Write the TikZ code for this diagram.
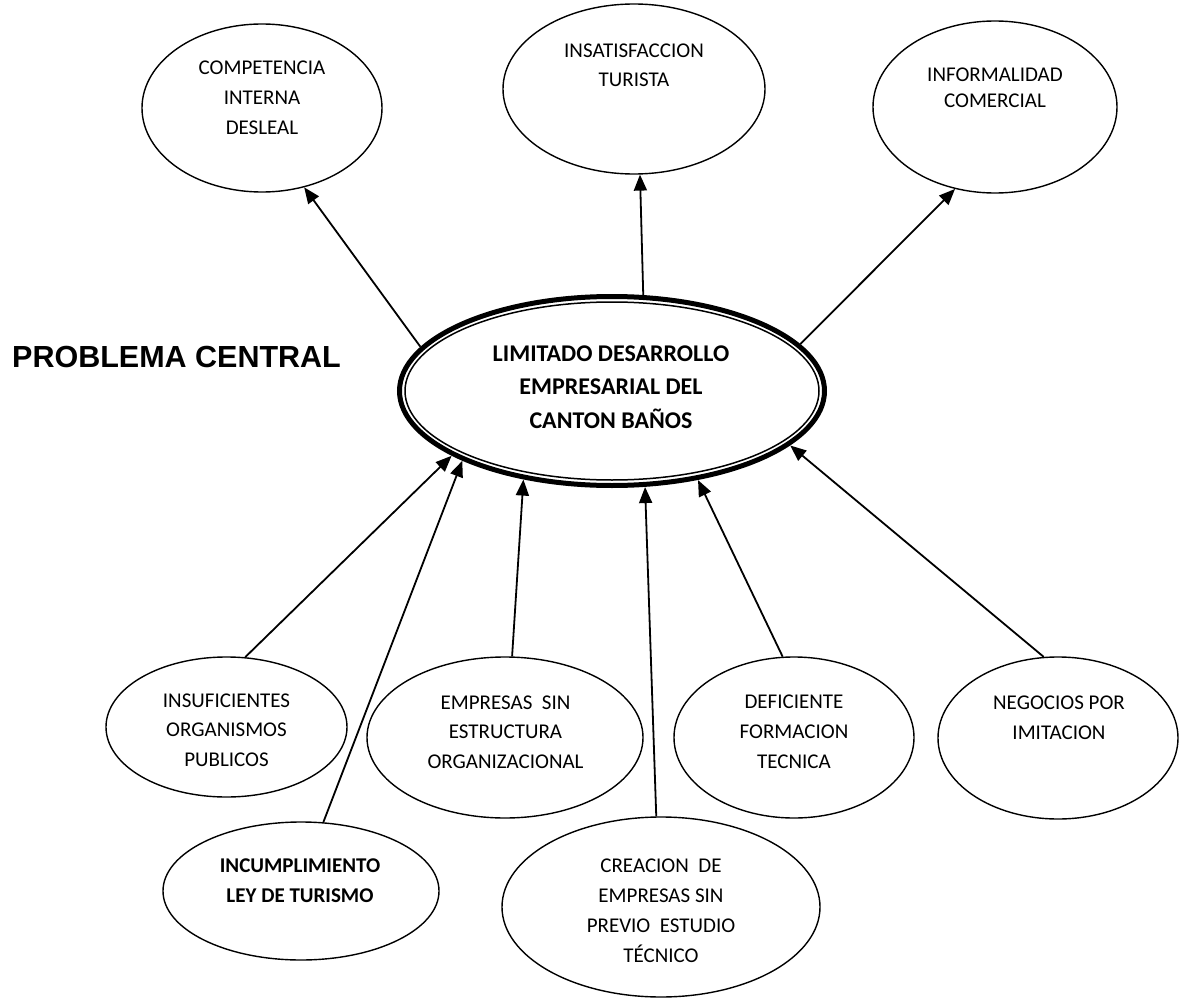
\documentclass[tikz,border=0pt]{standalone}
\usepackage{fontspec}
\setmainfont{Carlito}
\newfontfamily\arialfont{Liberation Sans}
\usetikzlibrary{arrows.meta,shapes.geometric}
\begin{document}
\begin{tikzpicture}[x=1pt,y=-1pt,
  oval/.style={ellipse, draw, line width=1.4pt, inner sep=0pt},
  txt/.style={anchor=base, align=center, inner sep=0pt, font=\fontsize{21}{29.5}\selectfont},
  btxt/.style={anchor=base, align=center, inner sep=0pt, font=\bfseries\fontsize{21}{30}\selectfont},
  arr/.style={line width=1.8pt, -{Triangle[length=16pt,width=13pt]}}]
\useasboundingbox[fill=white] (0,0) rectangle (1187,998);

% top effects
\node[oval, minimum width=240pt, minimum height=168pt] (comp) at (262,108) {};
\node[txt] (tcomp) at (262,134) {COMPETENCIA\\INTERNA\\DESLEAL};
\node[oval, minimum width=262pt, minimum height=170pt] (insat) at (634,89) {};
\node[txt, font=\fontsize{21}{29}\selectfont] (tinsat) at (634,87) {INSATISFACCION\\TURISTA};
\node[oval, minimum width=244pt, minimum height=172pt] (infor) at (995,107) {};
\node[txt, font=\fontsize{21}{26.5}\selectfont] (tinfor) at (995,107.5) {INFORMALIDAD\\COMERCIAL};

% central problem
\node[ellipse, inner sep=0pt, minimum width=430pt, minimum height=194pt] (cen) at (612,391) {};
\draw[line width=5pt] (cen.center) ellipse [x radius=212.5, y radius=94.5];
\draw[line width=1.5pt] (cen.center) ellipse [x radius=207, y radius=89];
\node[btxt, font=\bfseries\fontsize{24}{33.5}\selectfont] (tcen) at (611,428) {LIMITADO DESARROLLO\\EMPRESARIAL DEL\\CANTON BAÑOS};
\node[anchor=base west, inner sep=0pt, font=\arialfont\bfseries\fontsize{30.5}{36}\selectfont] (title) at (12,367) {PROBLEMA CENTRAL};

% bottom causes
\node[oval, minimum width=241pt, minimum height=140pt] (insuf) at (226.5,727) {};
\node[txt] (tinsuf) at (226.5,766) {INSUFICIENTES\\ORGANISMOS\\PUBLICOS};
\node[oval, minimum width=276pt, minimum height=138pt] (incum) at (301,891) {};
\node[btxt] (tincum) at (300,902) {INCUMPLIMIENTO\\LEY DE TURISMO};
\node[oval, minimum width=276pt, minimum height=161pt] (empr) at (505,737.5) {};
\node[txt] (tempr) at (505.5,768) {EMPRESAS\ \ SIN\\ESTRUCTURA\\ORGANIZACIONAL};
\node[oval, minimum width=318pt, minimum height=180pt] (crea) at (661,907) {};
\node[txt, font=\fontsize{21}{30}\selectfont] (tcrea) at (661,962) {CREACION\ \ DE\\EMPRESAS SIN\\PREVIO\ \ ESTUDIO\\TÉCNICO};
\node[oval, minimum width=240pt, minimum height=161pt] (defi) at (794,737.5) {};
\node[txt, font=\fontsize{21}{30}\selectfont] (tdefi) at (794,768) {DEFICIENTE\\FORMACION\\TECNICA};
\node[oval, minimum width=240pt, minimum height=162pt] (nego) at (1058,738) {};
\node[txt, font=\fontsize{21}{30}\selectfont] (tnego) at (1059,739) {NEGOCIOS POR\\IMITACION};

% connectors
\draw[arr] (cen.167.6) -- (comp.-62);
\draw[arr] (cen.72.8) -- (insat.-86);
\draw[arr] (cen.14.8) -- (infor.-116.8);
\draw[arr] (insuf.75.2) -- (cen.202.2);
\draw[arr] (incum.72.3) -- (cen.205.2);
\draw[arr] (empr.85.7) -- (cen.-135);
\draw[arr] (crea.93.8) -- (cen.-71.5);
\draw[arr] (defi.98) -- (cen.-46.6);
\draw[arr] (nego.100.9) -- (cen.-17);
\end{tikzpicture}
\end{document}
